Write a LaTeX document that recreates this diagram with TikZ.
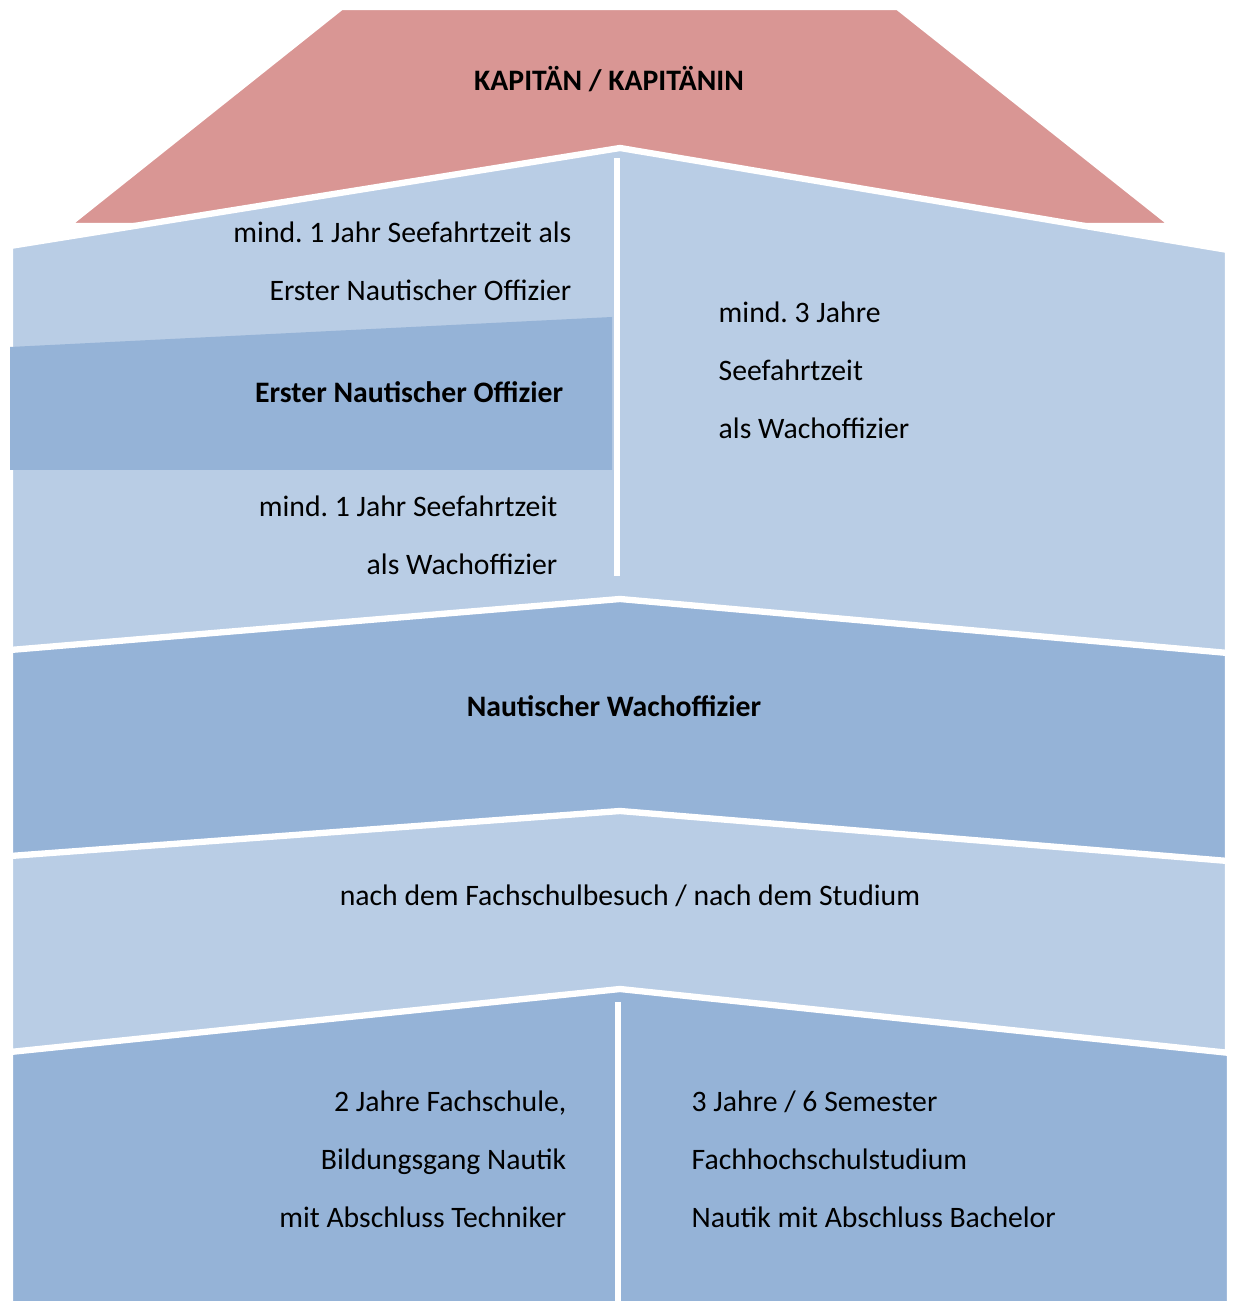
\documentclass[tikz,border=0pt]{standalone}
\usepackage{fontspec}
\setmainfont{Carlito}
\usetikzlibrary{positioning}
\definecolor{roofred}{HTML}{D99694}
\definecolor{paleblue}{HTML}{B9CDE5}
\definecolor{midblue}{HTML}{95B3D7}
\tikzset{
	roof/.style={fill=roofred, draw=white, line width=0.6pt},
	palestep/.style={fill=paleblue, draw=white, line width=1.8pt},
	midstep/.style={fill=midblue, draw=white, line width=1.8pt},
	gap/.style={draw=white, line width=1.5pt},
	txt/.style={font=\fontsize{8.45}{16.5}\selectfont, inner sep=0pt},
	boldtxt/.style={font=\fontsize{8.45}{16.5}\selectfont\bfseries, inner sep=0pt},
}
\frenchspacing

\begin{document}
\begin{tikzpicture}[x=0.01cm, y=-0.01cm]
				\useasboundingbox (0,0) rectangle (1233,1301);
				\clip (0,0) rectangle (1233,1301);
				% Roof
				\fill[white] (0,0) rectangle (1233,1301);
				\draw[roof] (342,9) -- (897,9) -- (1168,224) -- (72,224) -- cycle;
				
				% Steps, top to bottom
				\draw[palestep] (10,246) -- (620,148) -- (1228,250) -- (1228,720) -- (10,720) -- cycle;
				\fill[midblue] (10,347) -- (612,317) -- (612,470) -- (10,470) -- cycle;
				\draw[gap] (617,158) -- (617,576);
				\draw[midstep] (10,650) -- (620,599) -- (1228,653) -- (1228,900) -- (10,900) -- cycle;
				\draw[palestep] (10,856) -- (620,811) -- (1228,861) -- (1228,1080) -- (10,1080) -- cycle;
				\draw[midstep] (10,1052) -- (620,989) -- (1230,1053) -- (1230,1320) -- (10,1320) -- cycle;
				\draw[gap] (618,1002) -- (618,1310);
				
				% Labels
				\node[boldtxt] (captain) at (609,79) {KAPITÄN / KAPITÄNIN};
				\node[txt, anchor=east, align=right] (firstreq) at (572,261) {mind. 1 Jahr Seefahrtzeit als\\Erster Nautischer Offizier};
				\node[boldtxt, anchor=east] (firstmate) at (564,392) {Erster Nautischer Offizier};
				\node[txt, anchor=east, align=right] (watchreq) at (558,535) {mind. 1 Jahr Seefahrtzeit\\als Wachoffizier};
				\node[txt, anchor=west, align=left] (directreq) at (718,370) {mind. 3 Jahre\\Seefahrtzeit\\als Wachoffizier};
				\node[boldtxt] (watchofficer) at (614,706) {Nautischer Wachoffizier};
				\node[txt] (after) at (630,896) {nach dem Fachschulbesuch / nach dem Studium};
				\node[txt, anchor=east, align=right] (college) at (567,1159) {2 Jahre Fachschule,\\Bildungsgang Nautik\\mit Abschluss Techniker};
				\node[txt, anchor=west, align=left] (university) at (691,1159) {3 Jahre / 6 Semester\\Fachhochschulstudium\\Nautik mit Abschluss Bachelor};
				
			\end{tikzpicture}
\end{document}
